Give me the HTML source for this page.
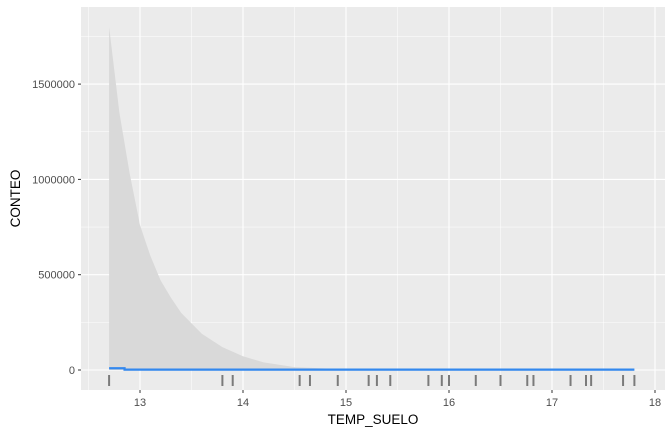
<!DOCTYPE html>
<html><head><meta charset="utf-8"><style>
body{margin:0;background:#fff;font-family:"Liberation Sans",sans-serif}
</style></head><body>
<svg id="c" width="671" height="431" xmlns="http://www.w3.org/2000/svg"></svg>
<script>
const ribbonX=[12.7,12.8,12.9,13.0,13.1,13.2,13.3,13.4,13.6,13.8,14.0,14.2,14.5,15.0,16.0,17.8];
const ribbonHi=[1800000,1350000,1030000,760000,600000,470000,380000,300000,190000,120000,72000,40000,15000,3000,500,0];
const fitX=[12.7,12.85,12.85,17.8];
const fitY=[9000,9000,2000,2000];
const rugX=[12.7,13.8,13.9,14.55,14.65,14.92,15.22,15.3,15.43,15.8,15.93,16.0,16.26,16.5,16.76,16.82,17.18,17.33,17.38,17.69,17.8];
const xTicks=[13,14,15,16,17,18];
const yTicks=[0,500000,1000000,1500000];
const L=81,R=665,T=7,B=390;
const sx=v=>140+(v-13)*103;
const sy=v=>370-v*95.3/500000;
const s=document.getElementById('c');const ns='http://www.w3.org/2000/svg';
function mk(t,a,p){const e=document.createElementNS(ns,t);for(const k in a)e.setAttribute(k,a[k]);(p||s).appendChild(e);return e;}
const bg=mk('rect',{x:L,y:T,width:R-L,height:B-T,fill:'#ebebeb'});

for(let v=12.5;v<=18.01;v+=0.5){const g=mk('line',{x1:sx(v),x2:sx(v),y1:T,y2:B,stroke:'#fff','stroke-width':Number.isInteger(v)?1.1:0.5});
}
for(let v=-250000;v<=1750000;v+=250000){const y=sy(v);if(y<T||y>B)continue;const g=mk('line',{x1:L,x2:R,y1:y,y2:y,stroke:'#fff','stroke-width':v%500000===0?1.1:0.5});
}
let d='M'+sx(ribbonX[0])+','+sy(0);
ribbonX.forEach((x,i)=>d+=' L'+sx(x)+','+sy(ribbonHi[i]));
d+=' L'+sx(ribbonX[ribbonX.length-1])+','+sy(0)+' Z';
const rb=mk('path',{d:d,fill:'#d9d9d9'});

const fl=mk('polyline',{points:fitX.map((x,i)=>sx(x)+','+sy(fitY[i])).join(' '),fill:'none',stroke:'#3388ee','stroke-width':2.2});

rugX.forEach(v=>{const r=mk('line',{x1:sx(v),x2:sx(v),y1:375,y2:386,stroke:'#7a7a7a','stroke-width':2});
});
xTicks.forEach(v=>{mk('line',{x1:sx(v),x2:sx(v),y1:B,y2:B+3,stroke:'#333'});
const t=mk('text',{x:sx(v),y:B+16,'text-anchor':'middle','font-size':11,fill:'#4d4d4d'});t.textContent=v;
});
yTicks.forEach(v=>{mk('line',{x1:L-3,x2:L,y1:sy(v),y2:sy(v),stroke:'#333'});
const t=mk('text',{x:L-6,y:sy(v)+4,'text-anchor':'end','font-size':11,fill:'#4d4d4d'});t.textContent=v;
});
const xt=mk('text',{x:(L+R)/2,y:424,'text-anchor':'middle','font-size':13.5,fill:'#000'});xt.textContent='TEMP_SUELO';

const yt=mk('text',{x:0,y:0,transform:'translate(20,'+((T+B)/2)+') rotate(-90)','text-anchor':'middle','font-size':13.5,fill:'#000'});yt.textContent='CONTEO';

</script>
</body></html>
